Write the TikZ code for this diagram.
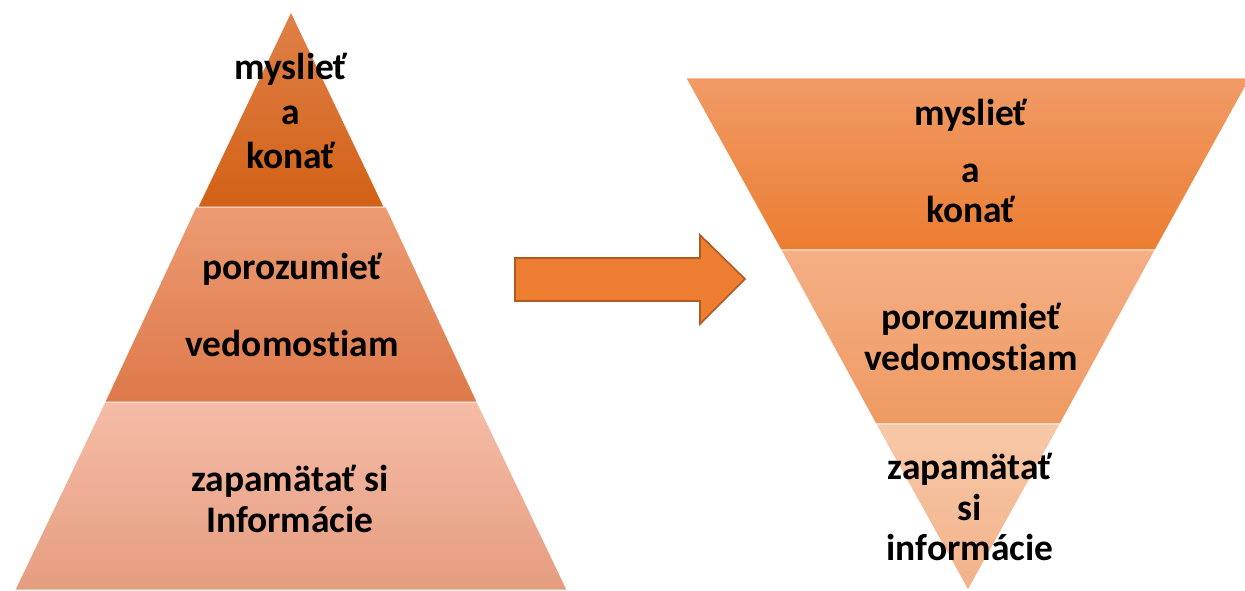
\documentclass[tikz,border=0pt]{standalone}
\usepackage{fontspec}
\setmainfont{Carlito}[Ligatures=NoCommon]

\definecolor{lTopT}{HTML}{E08048}
\definecolor{lTopB}{HTML}{D26116}
\definecolor{lMidT}{HTML}{EC9B73}
\definecolor{lMidB}{HTML}{DE794A}
\definecolor{lBotT}{HTML}{F5BCA6}
\definecolor{lBotB}{HTML}{E59D80}
\definecolor{rTopT}{HTML}{F19B67}
\definecolor{rTopB}{HTML}{EB7D31}
\definecolor{rMidT}{HTML}{F5AF85}
\definecolor{rMidB}{HTML}{EE9A62}
\definecolor{rBotT}{HTML}{F7C8A8}
\definecolor{rBotB}{HTML}{F2B28A}
\definecolor{arrowFill}{HTML}{ED7D31}
\definecolor{arrowLine}{HTML}{AE5A21}

\tikzset{
  layer/.style={draw=white, line width=0.6pt},
  lbl/.style={font=\bfseries\fontsize{37.5}{40.5}\selectfont, align=center, inner sep=0pt},
}

\begin{document}
\begin{tikzpicture}[x=1pt, y=-1pt]
  \useasboundingbox (0,0) rectangle (1245,590);

  % left pyramid, bottom layer first
  \path[layer, top color=lBotT, bottom color=lBotB] (105,402) -- (477,402) -- (567,590) -- (15,590) -- cycle;
  \path[layer, top color=lMidT, bottom color=lMidB] (196,207) -- (386,207) -- (477,402) -- (105,402) -- cycle;
  \path[layer, top color=lTopT, bottom color=lTopB] (291,12) -- (384,207) -- (198,207) -- cycle;

  % right pyramid, upside down
  \path[layer, top color=rTopT, bottom color=rTopB] (686,78) -- (1250,78) -- (1155,250) -- (781,250) -- cycle;
  \path[layer, top color=rMidT, bottom color=rMidB] (781,250) -- (1155,250) -- (1060,424) -- (876,424) -- cycle;
  \path[layer, top color=rBotT, bottom color=rBotB] (876,424) -- (1060,424) -- (968,590) -- cycle;

  % block arrow between them
  \draw[fill=arrowFill, draw=arrowLine, line width=1.6pt, line join=miter]
    (515,258) -- (700,258) -- (700,235) -- (745,279) -- (700,324) -- (700,301) -- (515,301) -- cycle;

  % labels
  \node[lbl] (lmysl) at (291,111) {myslieť\\[4pt] a\\[4pt] konať};
  \node[lbl] (lporoz) at (292,305) {porozumieť\\[36pt] vedomostiam};
  \node[lbl] (lzapam) at (290,499) {zapamätať si\\ Informácie};
  \node[lbl] (rmysl) at (971,161) {myslieť\\[16pt] a\\ konať};
  \node[lbl] (rporoz) at (971,337) {porozumieť\\ vedomostiam};
  \node[lbl] (rzapam) at (970,507) {zapamätať\\ si\\ informácie};
\end{tikzpicture}
\end{document}
